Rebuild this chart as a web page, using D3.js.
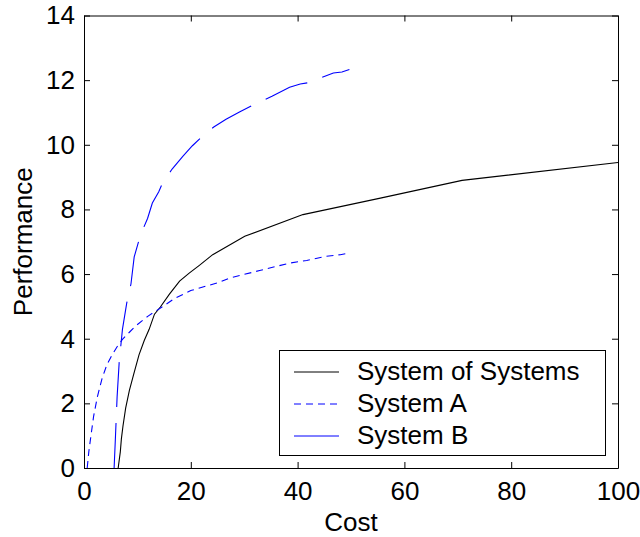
<!DOCTYPE html>
<html lang="en">
<head>
<meta charset="utf-8">
<title>Performance vs Cost</title>
<script src="https://d3js.org/d3.v7.min.js"></script>
<style>
  body { margin: 0; background: #fff; }
  svg text { font-family: "Liberation Sans", Arial, sans-serif; fill: #000; }
</style>
</head>
<body>
<script>
// values
var sosCost = [6.4, 6.8, 7.0, 7.3, 7.8, 8.5, 9.3, 10.3, 11.3, 12.2, 13.2, 14.3, 16.0, 17.9, 19.7, 21.6, 24.1, 30.1, 41.0, 55.5, 70.8, 100];
var sosPerf = [0, 0.5, 0.9, 1.3, 1.85, 2.4, 2.9, 3.5, 3.95, 4.29, 4.76, 4.98, 5.38, 5.78, 6.03, 6.27, 6.6, 7.17, 7.84, 8.35, 8.9, 9.45];

var aCost = [0.6, 0.9, 1.3, 1.8, 2.5, 3.4, 4.3, 5.3, 6.2, 7.2, 8.5, 9.7, 12.0, 14.7, 17.0, 20.0, 25.4, 27.3, 32.9, 38.5, 41.7, 45.4, 48.0, 49.8];
var aPerf = [0, 0.5, 1.0, 1.6, 2.2, 2.78, 3.2, 3.51, 3.75, 3.98, 4.2, 4.4, 4.7, 4.99, 5.25, 5.49, 5.75, 5.88, 6.11, 6.34, 6.42, 6.55, 6.6, 6.66];

var bCost = [5.64, 5.9, 6.2, 6.6, 7.2, 8.0, 8.8, 9.4, 10.3, 11.2, 11.9, 12.8, 14.0, 14.7, 16.5, 18.5, 20.3, 22.2, 24.3, 26.6, 29.2, 32.0, 35.2, 38.5, 40.5, 42.3, 44.5, 46.7, 48.3, 49.7];
var bPerf = [0, 1.0, 2.2, 3.3, 4.29, 5.1, 5.7, 6.53, 7.05, 7.45, 7.72, 8.2, 8.55, 8.81, 9.25, 9.64, 9.97, 10.27, 10.55, 10.79, 11.02, 11.26, 11.5, 11.78, 11.88, 11.93, 12.08, 12.22, 12.25, 12.33];

var xTicks = [0, 20, 40, 60, 80, 100];
var yTicks = [0, 2, 4, 6, 8, 10, 12, 14];
var legendNames = ["System of Systems", "System A", "System B"];

var W = 640, H = 537;
var mLeft = 84, mRight = 618, mTop = 15.5, mBottom = 468;
var fs = 26;

var svg = d3.select("body").append("svg")
    .attr("width", W)
    .attr("height", H);

svg.append("rect").attr("width", W).attr("height", H).attr("fill", "#fff");

var x = d3.scaleLinear().domain([0, 100]).range([mLeft, mRight]);
var y = d3.scaleLinear().domain([0, 14]).range([mBottom, mTop]);

function zip(xs, ys) {
    return xs.map(function(v, i) { return [v, ys[i]]; });
}

var line = d3.line()
    .x(function(d) { return x(d[0]); })
    .y(function(d) { return y(d[1]); });

var series = [
    { name: legendNames[0], pts: zip(sosCost, sosPerf), color: "#000", dash: null, legendDash: null },
    { name: legendNames[1], pts: zip(aCost, aPerf), color: "#0000ff", dash: "7,5", legendDash: "7,5" },
    { name: legendNames[2], pts: zip(bCost, bPerf), color: "#0000ff", dash: "45,16", legendDash: null }
];

// axes with inward ticks on all four sides
function styleAxis(g) {
    g.selectAll("path").attr("stroke", "#000").attr("stroke-width", 1);
    g.selectAll("line").attr("stroke", "#000").attr("stroke-width", 1);
    g.selectAll("text")
        .attr("font-size", fs)
        .attr("font-family", "Liberation Sans, Arial, sans-serif")
        .attr("fill", "#000");
}

svg.append("g")
    .attr("transform", "translate(0," + mBottom + ")")
    .call(d3.axisBottom(x).tickValues(xTicks).tickSize(-6).tickSizeOuter(0).tickPadding(14))
    .call(styleAxis);

svg.append("g")
    .attr("transform", "translate(0," + mTop + ")")
    .call(d3.axisTop(x).tickValues(xTicks).tickSize(-6).tickSizeOuter(0).tickFormat(""))
    .call(styleAxis);

svg.append("g")
    .attr("transform", "translate(" + mLeft + ",0)")
    .call(d3.axisLeft(y).tickValues(yTicks).tickSize(-6).tickSizeOuter(0).tickPadding(9))
    .call(styleAxis);

svg.append("g")
    .attr("transform", "translate(" + mRight + ",0)")
    .call(d3.axisRight(y).tickValues(yTicks).tickSize(-6).tickSizeOuter(0).tickFormat(""))
    .call(styleAxis);

// curves
svg.append("g").selectAll("path.curve")
    .data(series)
    .enter()
    .append("path")
    .attr("class", "curve")
    .attr("d", function(d) { return line(d.pts); })
    .attr("fill", "none")
    .attr("stroke", function(d) { return d.color; })
    .attr("stroke-width", 1.1)
    .attr("stroke-dasharray", function(d) { return d.dash; });

// axis titles
svg.append("text")
    .attr("x", (mLeft + mRight) / 2)
    .attr("y", 531)
    .attr("text-anchor", "middle")
    .attr("font-size", fs)
    .text("Cost");

svg.append("text")
    .attr("transform", "translate(32," + (mTop + mBottom) / 2 + ") rotate(-90)")
    .attr("text-anchor", "middle")
    .attr("font-size", fs)
    .text("Performance");

// legend
var legend = svg.append("g");
legend.append("rect")
    .attr("x", 279.5).attr("y", 350.5)
    .attr("width", 326).attr("height", 105)
    .attr("fill", "#fff")
    .attr("stroke", "#000")
    .attr("stroke-width", 1);

var rows = legend.selectAll("g.row")
    .data(series)
    .enter()
    .append("g")
    .attr("class", "row")
    .attr("transform", function(d, i) { return "translate(0," + (372 + i * 32) + ")"; });

rows.append("line")
    .attr("x1", 294).attr("x2", 339)
    .attr("y1", 0).attr("y2", 0)
    .attr("stroke", function(d) { return d.color; })
    .attr("stroke-width", 1)
    .attr("stroke-dasharray", function(d) { return d.legendDash; });

rows.append("text")
    .attr("x", 357)
    .attr("y", -1.5)
    .attr("dy", "0.35em")
    .attr("font-size", fs)
    .text(function(d) { return d.name; });
</script>
</body>
</html>
